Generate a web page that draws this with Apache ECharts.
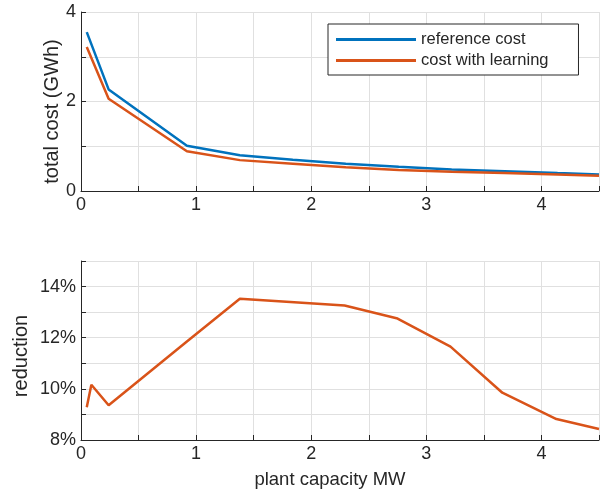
<!DOCTYPE html>
<html><head><meta charset="utf-8">
<script src="https://cdn.jsdelivr.net/npm/echarts@6/dist/echarts.min.js"></script>
<style>html,body{margin:0;padding:0;background:#fff}#c{width:602px;height:496px}</style>
</head><body><div id="c"></div>
<script>
const capTop = [0.05, 0.24, 0.92, 1.38, 1.84, 2.30, 2.76, 3.22, 3.68, 4.14, 4.5];
const refCost = [3.55, 2.27, 1.01, 0.80, 0.70, 0.61, 0.54, 0.48, 0.44, 0.40, 0.37];
const learnCost = [3.22, 2.06, 0.89, 0.69, 0.61, 0.53, 0.47, 0.43, 0.40, 0.37, 0.34];
const capBot = [0.05, 0.09, 0.24, 0.92, 1.38, 2.29, 2.75, 3.21, 3.66, 4.13, 4.5];
const reduction = [9.28, 10.16, 9.36, 11.85, 13.52, 13.26, 12.75, 11.65, 9.85, 8.82, 8.43];

const FONT = '"Liberation Sans", Arial, sans-serif';
const TXT = '#262626';
const zip = (a, b) => a.map((v, i) => [v, b[i]]);

function xAxis(idx, name) {
  return {
    type: 'value', gridIndex: idx, min: 0, max: 4.5, interval: 0.5,
    name: name || '', nameLocation: 'middle', nameGap: 30, nameMoveOverlap: false,
    nameTextStyle: { fontFamily: FONT, fontSize: 18.5, color: TXT, padding: [0, 20, 0, 0] },
    axisLine: { lineStyle: { color: TXT, width: 1 } },
    axisTick: { inside: true, length: 5, lineStyle: { color: TXT } },
    axisLabel: { fontFamily: FONT, fontSize: 18, color: TXT, margin: 5, showMaxLabel: true,
      formatter: v => (Math.abs(v - Math.round(v)) < 1e-9 ? String(Math.round(v)) : '') },
    splitLine: { show: true, lineStyle: { color: '#e0e0e0', width: 1 } }
  };
}
function yAxis(idx, min, max, name, fmt, gap, shift) {
  return {
    type: 'value', gridIndex: idx, min: min, max: max, interval: 1,
    name: name, nameLocation: 'middle', nameGap: gap, nameRotate: 90, nameMoveOverlap: false,
    nameTextStyle: { fontFamily: FONT, fontSize: 20, color: TXT, padding: [0, shift, 0, 0] },
    axisLine: { show: true, lineStyle: { color: TXT, width: 1 } },
    axisTick: { show: true, inside: true, length: 5, lineStyle: { color: TXT } },
    axisLabel: { fontFamily: FONT, fontSize: 18, color: TXT, margin: 5, formatter: fmt },
    splitLine: { show: true, lineStyle: { color: '#e0e0e0', width: 1 } }
  };
}

const chart = echarts.init(document.getElementById('c'), null, { renderer: 'canvas' });
chart.setOption({
  animation: false,
  backgroundColor: '#fff',
  grid: [
    { left: 81, right: 2, top: 12, height: 179 },
    { left: 81, right: 2, top: 261, height: 179 }
  ],
  xAxis: [xAxis(0), xAxis(1, 'plant capacity MW')],
  yAxis: [
    yAxis(0, 0, 4, 'total cost (GWh)', v => (v % 2 === 0 ? String(v) : ''), 19, 20),
    yAxis(1, 8, 15, 'reduction', v => (v % 2 === 0 ? v + '%' : ''), 50, 11)
  ],
  legend: {
    show: true, left: 328, top: 24, orient: 'vertical',
    padding: [7, 30, 6, 8], itemGap: 4,
    borderColor: TXT, borderWidth: 1, backgroundColor: '#fff',
    itemWidth: 80, itemHeight: 3, icon: 'rect',
    textStyle: { fontFamily: FONT, fontSize: 16.5, color: TXT },
    data: ['reference cost', 'cost with learning']
  },
  series: [
    { name: 'reference cost', type: 'line', xAxisIndex: 0, yAxisIndex: 0, data: zip(capTop, refCost),
      symbol: 'none', lineStyle: { color: '#0072BD', width: 2.5 }, itemStyle: { color: '#0072BD' } },
    { name: 'cost with learning', type: 'line', xAxisIndex: 0, yAxisIndex: 0, data: zip(capTop, learnCost),
      symbol: 'none', lineStyle: { color: '#D95319', width: 2.5 }, itemStyle: { color: '#D95319' } },
    { name: 'reduction', type: 'line', xAxisIndex: 1, yAxisIndex: 1, data: zip(capBot, reduction),
      symbol: 'none', lineStyle: { color: '#D95319', width: 2.5 }, itemStyle: { color: '#D95319' } }
  ]
});
</script></body></html>
